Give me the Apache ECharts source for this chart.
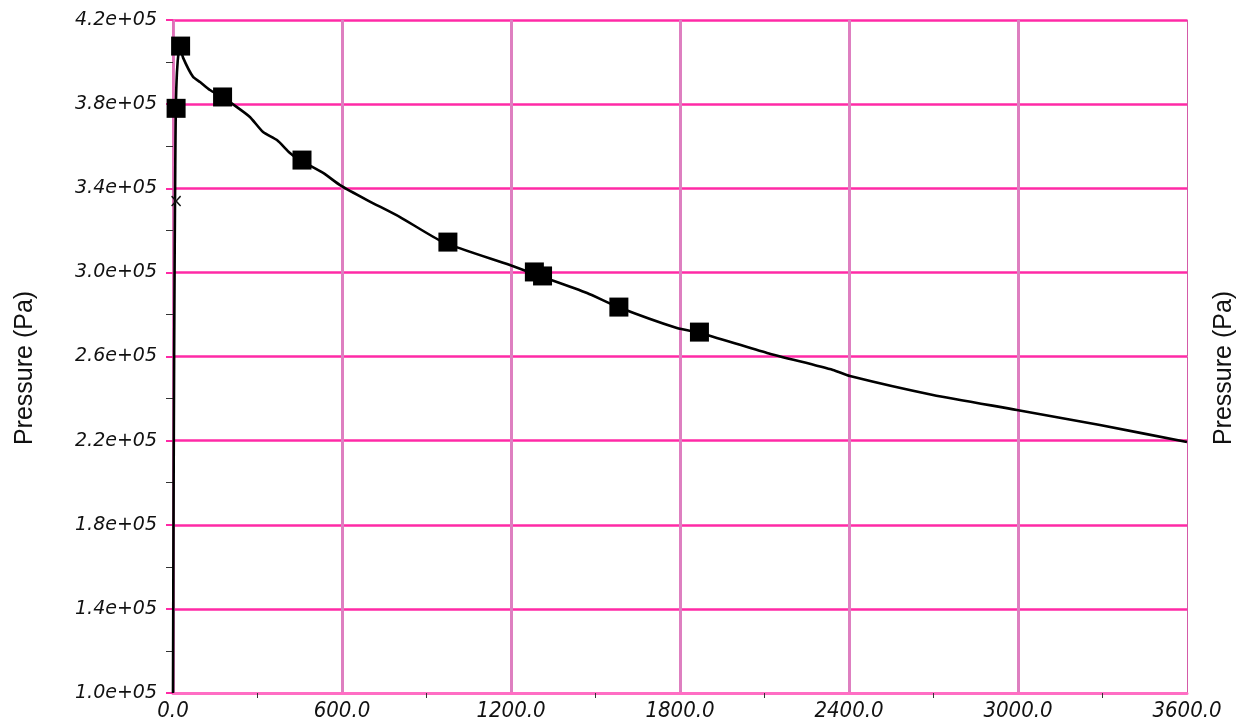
<!DOCTYPE html>
<html>
<head>
<meta charset="utf-8">
<script src="https://cdn.jsdelivr.net/npm/echarts@6/dist/echarts.min.js"></script>
<style>
  html, body { margin: 0; padding: 0; background: #ffffff; }
  #chart { width: 1250px; height: 728px; }
</style>
</head>
<body>
<div id="chart"></div>
<script>
// Pressure history (time in s, pressure in Pa)
const timeS = [0, 2, 4, 6, 8, 10, 14, 20, 25, 36, 71, 96, 131, 174, 227, 273, 320, 369, 415, 451,
  533, 593, 689, 806, 959, 1196, 1292, 1470, 1580, 1789, 1871, 2109, 2343, 2403, 2698, 2996, 3291, 3600];
const pressurePa = [1.0e5, 1.9e5, 2.6e5, 3.1e5, 3.5e5, 3.78e5, 3.95e5, 4.05e5, 4.07e5, 4.02e5, 3.93e5, 3.905e5,
  3.867e5, 3.834e5, 3.786e5, 3.739e5, 3.667e5, 3.629e5, 3.568e5, 3.534e5, 3.473e5, 3.415e5, 3.344e5, 3.263e5,
  3.144e5, 3.035e5, 2.988e5, 2.902e5, 2.835e5, 2.735e5, 2.712e5, 2.617e5, 2.536e5, 2.507e5, 2.417e5, 2.346e5,
  2.274e5, 2.193e5];

// Sampled points shown as square markers
const markerTime = [11, 27, 176, 458, 976, 1283, 1312, 1583, 1869];
const markerPressure = [3.78e5, 4.076e5, 3.834e5, 3.534e5, 3.144e5, 3.002e5, 2.983e5, 2.835e5, 2.716e5];

// Single cross marker
const crossTime = [11];
const crossPressure = [3.339e5];

// Axis ticks
const xTicks = [0, 600, 1200, 1800, 2400, 3000, 3600];
const yMajorTicks = [1.0e5, 1.4e5, 1.8e5, 2.2e5, 2.6e5, 3.0e5, 3.4e5, 3.8e5, 4.2e5];
const axisTitle = 'Pressure (Pa)';

function sciLabel(v) {
  const parts = v.toExponential(1).split('e');
  const exp = parseInt(parts[1], 10);
  const sign = exp < 0 ? '-' : '+';
  const mag = Math.abs(exp);
  return parts[0] + 'e' + sign + (mag < 10 ? '0' : '') + mag;
}
function isMajorY(v) {
  return yMajorTicks.some(t => Math.abs(t - v) < 1);
}

const chart = echarts.init(document.getElementById('chart'), null, { renderer: 'canvas' });

const titleStyle = {
  text: axisTitle,
  font: '25px "Liberation Sans", Arial, sans-serif',
  fill: '#111111',
  align: 'center',
  verticalAlign: 'middle'
};

const option = {
  animation: false,
  backgroundColor: '#ffffff',
  grid: { left: 173, right: 63, top: 20, bottom: 35, containLabel: false },
  xAxis: {
    type: 'value',
    min: xTicks[0],
    max: xTicks[xTicks.length - 1],
    interval: xTicks[1] - xTicks[0],
    axisLine: { show: true, onZero: false, lineStyle: { color: '#ff6ec4', width: 3 } },
    axisTick: { show: false },
    minorTick: { show: true, splitNumber: 2, length: 5, lineStyle: { color: '#333333', width: 1 } },
    splitLine: { show: true, showMaxLine: false, lineStyle: { color: '#de7fc0', width: 3 } },
    axisLabel: {
      margin: 7,
      color: '#111111',
      fontFamily: '"Liberation Sans Narrow", "DejaVu Sans Condensed", sans-serif',
      fontStyle: 'italic',
      fontSize: 22,
      formatter: v => v.toFixed(1)
    }
  },
  yAxis: [
    {
      type: 'value',
      position: 'left',
      min: 1.0e5,
      max: 4.2e5,
      interval: 2e4,
      axisLine: { show: true, onZero: false, lineStyle: { color: '#e070b8', width: 2 } },
      axisTick: { show: true, length: 7, lineStyle: { color: '#333333', width: 1 } },
      splitLine: { show: true, lineStyle: { color: ['#ff2aa6', 'rgba(0,0,0,0)'], width: 2.5 } },
      axisLabel: {
        margin: 16,
        color: '#111111',
        fontFamily: '"DejaVu Sans", sans-serif',
        fontStyle: 'italic',
        fontSize: 19,
        formatter: v => (isMajorY(v) ? sciLabel(v) : '')
      }
    },
    {
      type: 'value',
      position: 'right',
      min: 1.0e5,
      max: 4.2e5,
      axisLine: { show: true, onZero: false, lineStyle: { color: '#d45aa8', width: 1 } },
      axisTick: { show: false },
      axisLabel: { show: false },
      splitLine: { show: false }
    },
    {
      type: 'value',
      position: 'left',
      min: 1.0e5,
      max: 4.2e5,
      axisLine: { show: false },
      axisTick: { show: true, length: 7, customValues: yMajorTicks, lineStyle: { color: '#ff2aa6', width: 2 } },
      axisLabel: { show: false },
      splitLine: { show: false }
    }
  ],
  // Axis titles drawn vertically on both sides, reading bottom to top
  graphic: [
    { type: 'text', x: 25, y: 368, rotation: Math.PI / 2, style: titleStyle },
    { type: 'text', x: 1224, y: 368, rotation: Math.PI / 2, style: titleStyle }
  ],
  series: [
    {
      name: 'pressure',
      type: 'line',
      data: timeS.map((t, i) => [t, pressurePa[i]]),
      showSymbol: false,
      smooth: 0.2,
      lineStyle: { color: '#000000', width: 2.6 },
      z: 3
    },
    {
      name: 'samples',
      type: 'scatter',
      data: markerTime.map((t, i) => [t, markerPressure[i]]),
      symbol: 'rect',
      symbolSize: 19,
      itemStyle: { color: '#000000', opacity: 1 },
      z: 4
    },
    {
      name: 'cross',
      type: 'scatter',
      data: crossTime.map((t, i) => [t, crossPressure[i]]),
      symbol: 'path://M0,1 L1,0 L5,4 L9,0 L10,1 L6,5 L10,9 L9,10 L5,6 L1,10 L0,9 L4,5 Z',
      symbolSize: [10, 11],
      itemStyle: { color: '#111111', opacity: 1 },
      z: 4
    }
  ]
};

chart.setOption(option);
</script>
</body>
</html>
